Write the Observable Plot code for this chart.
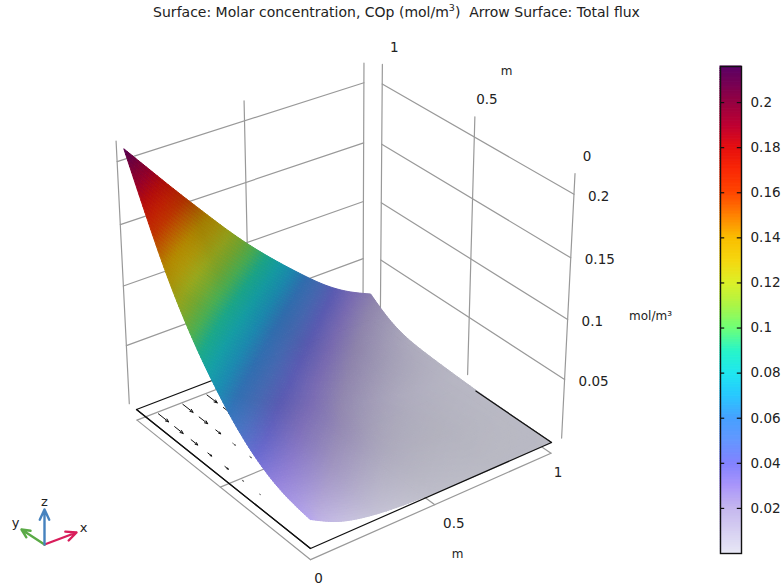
<!DOCTYPE html>
<html><head><meta charset="utf-8">
<script src="https://cdn.jsdelivr.net/npm/d3@7"></script>
<script src="https://cdn.jsdelivr.net/npm/@observablehq/plot@0.6"></script>
<style>
html,body{margin:0;padding:0;background:#fff;width:784px;height:587px;overflow:hidden;font-family:"DejaVu Sans",sans-serif}
#title{height:30px;width:784px;box-sizing:border-box;padding-top:5px;text-align:center;padding-left:9px;font-size:14px;line-height:15px;color:#222;white-space:pre}
#title sup{font-size:9.5px;line-height:0}
#wrap{position:relative;width:784px;height:557px}
#bar{position:absolute;left:718px;top:0}
svg{background:transparent!important}
</style></head><body>
<div id="title">Surface: Molar concentration, COp (mol/m<sup>3</sup>)  Arrow Surface: Total flux</div>
<div id="wrap"></div><div id="bar"></div>
<script>
// ---------- read values ----------
const gridX = [0,.1,.2,.3,.4,.5,.6,.7,.8,.9,1];
const gridY = [0,.1,.2,.3,.4,.5,.6,.7,.8,.9,1];
// concentration (mol/m3): one row per x, one column per y
const conc = [
 [.024,.026,.031,.04,.053,.07,.09,.114,.143,.178,.214],
 [.012,.0225,.027,.033,.042,.056,.073,.094,.12,.153,.19],
 [.0065,.015,.0225,.027,.033,.043,.059,.078,.1,.131,.166],
 [.0033,.006,.015,.022,.026,.034,.046,.063,.084,.109,.143],
 [.0018,.0032,.006,.015,.023,.0275,.035,.048,.067,.09,.12],
 [.0006,.0018,.0035,.006,.0115,.019,.027,.037,.052,.073,.099],
 [.0002,.0009,.002,.0037,.0062,.0115,.019,.0275,.039,.056,.08],
 [0,.0003,.001,.0021,.0038,.0064,.0115,.019,.028,.041,.062],
 [0,.0001,.0004,.0012,.0024,.004,.0066,.0115,.0185,.03,.045],
 [0,0,.0002,.0006,.0015,.0027,.0042,.0068,.0115,.019,.032],
 [0,0,.0001,.0003,.0008,.0015,.0024,.0035,.0055,.0115,.023]
];
// surface brightness seen in the picture: rows y = 1, .75, .5, .25, 0; columns x = 0, .25, .5, .75, 1
const shadeRows = [
 [.85,.65,.66,.68,.72],
 [.68,.68,.68,.72,.78],
 [.70,.70,.74,.78,.80],
 [.85,.80,.78,.78,.80],
 [.98,.88,.82,.80,.80]
];
const colorStops = [0,.02,.03,.04,.05,.06,.07,.08,.09,.1,.11,.12,.13,.14,.15,.16,.17,.18,.19,.2,.216];
const colorValues = ["#e8e8f5","#c5b7ee","#aa96fa","#8282ff","#6496ff","#46a0ff","#28c8ff","#1ee6f0","#28f5c8","#6eff78","#aaf546","#dcf028","#f5d70f","#fabe00","#ff8200","#ff4600","#fa2805","#e60f0f","#be0032","#960041","#5a0064"];
const colorTicks = [.02,.04,.06,.08,.1,.12,.14,.16,.18,.2];
const zTicks = [.05,.1,.15,.2];
const floorTicks = [0,.5,1];
const floorLabelShift = [8,19,7];
// flux arrows on the floor: x, y, length in -y
const arrowX = [.08,.08,.08,.08,.08,.08,.08,.18,.18,.18,.18,.18,.18,.28,.28,.28];
const arrowY = [.99,.89,.79,.69,.59,.49,.39,.99,.89,.79,.69,.59,.49,.99,.89,.79];
const arrowL = [.063,.052,.04,.023,.02,.008,.003,.063,.052,.03,.017,.01,.004,.063,.05,.028];
// camera: floor corners (0,0) (1,0) (1,1) (0,1), vertical vanishing point and depth factor
const corners = [[310,548],[551,442],[370,319],[136,409]];
const vanish = [345,4700], depthZ = -.29;
const wallGap = .045, floorZ = -.0093, wallTop = .216;

// ---------- projection ----------
const [p0,p1,p2,p3] = corners;
const dx1=p1[0]-p2[0],dy1=p1[1]-p2[1],dx2=p3[0]-p2[0],dy2=p3[1]-p2[1];
const sx=p0[0]-p1[0]+p2[0]-p3[0],sy=p0[1]-p1[1]+p2[1]-p3[1],den=dx1*dy2-dx2*dy1;
const g=(sx*dy2-dx2*sy)/den,h=(dx1*sy-sx*dy1)/den;
const A=p1[0]-p0[0]+g*p1[0],B=p3[0]-p0[0]+h*p3[0],C=p0[0],D=p1[1]-p0[1]+g*p1[1],E=p3[1]-p0[1]+h*p3[1],F=p0[1];
function proj(x,y,z){const w=g*x+h*y+1+depthZ*z;
  return [(A*x+B*y+C+vanish[0]*depthZ*z)/w,(D*x+E*y+F+vanish[1]*depthZ*z)/w];}
const px=d=>proj(d.x,d.y,d.z)[0], py=d=>proj(d.x,d.y,d.z)[1];

// ---------- surface sampling ----------
const cmap=d3.scaleLinear().domain(colorStops).range(colorValues).interpolate(d3.interpolateRgb).clamp(true);
const bs=(a,b,c,d,t)=>{const t2=t*t,t3=t2*t,u=1-t;return (u*u*u*a+(3*t3-6*t2+4)*b+(-3*t3+3*t2+3*t+1)*c+t3*d)/6;};
const nG=gridX.length-1;
function cellV(i,j){
  if(i<0)return 2*cellV(0,j)-cellV(1,j);
  if(i>nG)return 2*cellV(nG,j)-cellV(nG-1,j);
  if(j<0)return 2*cellV(i,0)-cellV(i,1);
  if(j>nG)return 2*cellV(i,nG)-cellV(i,nG-1);
  return conc[i][j];
}
function concAt(x,y){const fx=Math.min(x*nG,nG-1e-9),fy=Math.min(y*nG,nG-1e-9),i=Math.floor(fx),j=Math.floor(fy),tx=fx-i,ty=fy-j;
  const col=k=>bs(cellV(k,j-1),cellV(k,j),cellV(k,j+1),cellV(k,j+2),ty);
  return Math.max(0,bs(col(i-1),col(i),col(i+1),col(i+2),tx));}
function shadeAt(x,y){const m=shadeRows.length-1,u=Math.min(x*m,m-1e-9),v=Math.min((1-y)*m,m-1e-9),i=Math.floor(u),j=Math.floor(v),s=u-i,t=v-j,R=shadeRows;
  return (R[j][i]*(1-s)+R[j][i+1]*s)*(1-t)+(R[j+1][i]*(1-s)+R[j+1][i+1]*s)*t;}
const N=100, cells=[];
let id=0;
for(let j=N-1;j>=0;j--)for(let i=N-1;i>=0;i--){
  const x0=i/N,x1=(i+1)/N,y0=j/N,y1=(j+1)/N,cx=(x0+x1)/2,cy=(y0+y1)/2;
  const c=d3.rgb(cmap(concAt(cx,cy))),s=shadeAt(cx,cy);
  const fill=`rgb(${Math.round(c.r*s)},${Math.round(c.g*s)},${Math.round(c.b*s)})`;
  for(const [x,y] of [[x0,y0],[x1,y0],[x1,y1],[x0,y1],[x0,y0]])
    cells.push({x,y,z:concAt(x,y),id,fill});
  id++;
}

// ---------- lines ----------
const seg=(a,b,k)=>[{...a,k},{...b,k}];
const greyLines=[]; let kk=0;
for(const v of floorTicks){
  greyLines.push(...seg({x:v,y:0,z:floorZ},{x:v,y:1,z:floorZ},kk++));
  greyLines.push(...seg({x:0,y:v,z:floorZ},{x:1,y:v,z:floorZ},kk++));
  greyLines.push(...seg({x:v,y:1+wallGap,z:0},{x:v,y:1+wallGap,z:wallTop},kk++));
  greyLines.push(...seg({x:1+wallGap,y:v,z:0},{x:1+wallGap,y:v,z:wallTop},kk++));
}
for(const v of zTicks){
  greyLines.push(...seg({x:0,y:1+wallGap,z:v},{x:1,y:1+wallGap,z:v},kk++));
  greyLines.push(...seg({x:1+wallGap,y:0,z:v},{x:1+wallGap,y:1,z:v},kk++));
}
const boxBack=[{x:1,y:0,z:0},{x:1,y:1,z:0},{x:0,y:1,z:0},{x:0,y:0,z:0}];
const boxFront=[{x:0,y:1,z:0},{x:0,y:0,z:0},{x:1,y:0,z:0},{x:1,y:.4,z:0}];
const arrows=arrowX.map((x,i)=>({x,y:arrowY[i],l:arrowL[i]}));
const arrowPos={x1:d=>proj(d.x,d.y,floorZ)[0],y1:d=>proj(d.x,d.y,floorZ)[1],x2:d=>proj(d.x,d.y-d.l,floorZ)[0],y2:d=>proj(d.x,d.y-d.l,floorZ)[1]};
const zLabels=zTicks.map(v=>{const [a,b]=proj(1+wallGap,0,v);return {a,b,t:String(v)};});
const yLabels=floorTicks.map(v=>{const [a,b]=proj(1+wallGap,v,wallTop);return {a,b,t:String(v)};});
const xLabels=floorTicks.map((v,i)=>{const [a,b]=proj(v,0,floorZ);return {a:a+floorLabelShift[i],b,t:String(v)};});
const triad=[{a:44,b:544,c:76,d:532,col:"#d81e5b",n:"x",lx:83,ly:527},{a:44,b:544,c:21,d:529,col:"#5aaa46",n:"y",lx:15,ly:522},{a:44,b:544,c:44,d:509,col:"#4682be",n:"z",lx:44,ly:501}];
const unitLabels=[{a:506,b:71,t:"m"},{a:457,b:554,t:"m"},{a:650,b:316,t:"mol/m³"}];

const chart=Plot.plot({
  width:784,height:557,margin:0,
  x:{domain:[0,784],range:[0,784],axis:null},
  y:{domain:[30,587],range:[0,557],axis:null},
  color:{type:"identity"},
  style:{fontFamily:"DejaVu Sans"},
  marks:[
    Plot.line(greyLines,{x:px,y:py,z:"k",stroke:"#999",strokeWidth:1.2}),
    Plot.line(boxBack,{x:px,y:py,stroke:"#111",strokeWidth:1.2}),
    Plot.arrow(arrows.filter(d=>d.l>=.02),{...arrowPos,stroke:"#111",strokeWidth:1,headLength:5,headAngle:45}),
    Plot.arrow(arrows.filter(d=>d.l<.02),{...arrowPos,stroke:"#555",strokeWidth:.8,headLength:2,headAngle:45}),
    Plot.line(cells,{x:px,y:py,z:"id",fill:"fill",stroke:"fill",strokeWidth:1,strokeLinejoin:"round"}),
    Plot.line(boxFront,{x:px,y:py,stroke:"#111",strokeWidth:1.2}),
    Plot.text(zLabels,{x:"a",y:"b",text:"t",dx:14,dy:2,textAnchor:"start",fontSize:13.5,fill:"#222"}),
    Plot.text(yLabels,{x:"a",y:"b",text:"t",dx:12,dy:-17,fontSize:13.5,fill:"#222"}),
    Plot.text(xLabels,{x:"a",y:"b",text:"t",dy:19,fontSize:13.5,fill:"#222"}),
    Plot.text(unitLabels,{x:"a",y:"b",text:"t",fontSize:12,fill:"#222"}),
    Plot.arrow(triad,{x1:"a",y1:"b",x2:"c",y2:"d",stroke:"col",strokeWidth:2.4,headLength:7,headAngle:50}),
    Plot.text(triad,{x:"lx",y:"ly",text:"n",fontSize:13,fill:"#222"})
  ]
});
document.getElementById("wrap").appendChild(chart);

const stops=d3.range(0,216).map(i=>({a:i/1000,b:(i+1)/1000}));
const bar=Plot.plot({
  width:66,height:587,marginLeft:2,marginRight:43,marginTop:66,marginBottom:34,
  x:{domain:[0,1],axis:null},
  y:{domain:[0,.216],axis:null},
  color:{type:"linear",domain:colorStops,range:colorValues,interpolate:"rgb"},
  style:{fontFamily:"DejaVu Sans",background:"transparent"},
  marks:[
    Plot.rect(stops,{x1:0,x2:1,y1:"a",y2:"b",fill:d=>(d.a+d.b)/2,stroke:d=>(d.a+d.b)/2,strokeWidth:1}),
    Plot.ruleY(colorTicks,{x1:0,x2:.2,stroke:"#111",strokeWidth:1.2}),
    Plot.ruleY(colorTicks,{x1:.8,x2:1,stroke:"#111",strokeWidth:1.2}),
    Plot.frame({stroke:"#111",strokeWidth:1.4}),
    Plot.axisY({anchor:"right",ticks:colorTicks,tickSize:0,tickPadding:9,tickFormat:d=>String(d),label:null,fontSize:13.5,fill:"#222"})
  ]
});
document.getElementById("bar").appendChild(bar);
</script></body></html>
